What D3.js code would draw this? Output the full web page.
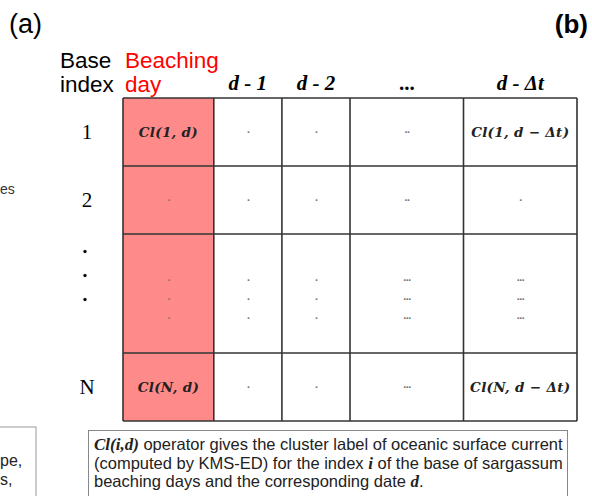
<!DOCTYPE html>
<html>
<head>
<meta charset="utf-8">
<script src="https://cdn.jsdelivr.net/npm/d3@7"></script>
<style>
  body { margin: 0; background: #fff; }
  svg { display: block; }
</style>
</head>
<body>
<svg id="chart" width="592" height="496"></svg>
<script>
// table contents
var columns = ["Beaching day", "d - 1", "d - 2", "...", "d - \u0394t"];
var rowLabels = ["1", "2", "\u22EE", "N"];
var row1 = ["Cl(1, d)", ".", ".", "..", "Cl(1, d \u2212 \u0394t)"];
var row2 = [".", ".", ".", "..", "."];
var row3 = [".", ".", ".", "...", "..."];   // stacked three times
var rowN = ["Cl(N, d)", ".", ".", "...", "Cl(N, d \u2212 \u0394t)"];
var cells = [row1, row2, row3, rowN];
var caption = [
  ["Cl(i,d)", " operator gives the cluster label of oceanic surface current"],
  ["", "(computed by KMS-ED) for the index ", "i", " of the base of sargassum"],
  ["", "beaching days and the corresponding date ", "d", "."]
];

// relative spans of the columns / rows
var colSpan = [4, 3, 3, 5, 5];
var rowSpan = [2, 2, 3.5, 2];

var svg = d3.select("#chart");

function cum(a) {
  var out = [0];
  a.forEach(function (v) { out.push(out[out.length - 1] + v); });
  return out;
}
var colEdge = cum(colSpan), rowEdge = cum(rowSpan);

var x = d3.scaleLinear().domain([0, d3.sum(colSpan)]).range([123, 577]);
var y = d3.scaleLinear().domain([0, d3.sum(rowSpan)]).range([98, 421]);

var sans = "'Liberation Sans', Arial, sans-serif";
var serif = "'Liberation Serif', 'Times New Roman', serif";

function isCl(v) { return v.indexOf("Cl") == 0; }

// panel letters
svg.append("text").attr("x", 9).attr("y", 33)
  .style("font-family", sans).style("font-size", "27px").text("(a)");
svg.append("text").attr("x", 588).attr("y", 33).attr("text-anchor", "end")
  .style("font-family", sans).style("font-size", "26px").style("font-weight", "bold").text("(b)");

// bits of panel (a) cut off at the left
svg.append("text").attr("x", 0).attr("y", 194)
  .style("font-family", sans).style("font-size", "14px").style("fill", "#333").text("es");
svg.append("rect").attr("x", -10).attr("y", 427).attr("width", 46).attr("height", 90)
  .attr("fill", "none").attr("stroke", "#999").attr("stroke-width", 1);
svg.append("text").attr("x", 0).attr("y", 466)
  .style("font-family", sans).style("font-size", "16px").style("fill", "#222").text("pe,");
svg.append("text").attr("x", 0).attr("y", 485)
  .style("font-family", sans).style("font-size", "16px").style("fill", "#222").text("s,");

// header labels
var hdr = svg.append("g").style("font-family", sans).style("font-size", "22.5px");
hdr.append("text").attr("x", 60).attr("y", 68).text("Base");
hdr.append("text").attr("x", 60).attr("y", 92).text("index");
hdr.append("text").attr("x", 125).attr("y", 68).style("fill", "#ff0000").text(columns[0].split(" ")[0]);
hdr.append("text").attr("x", 125).attr("y", 92).style("fill", "#ff0000").text(columns[0].split(" ")[1]);

svg.append("g").selectAll("text")
  .data(columns.slice(1))
  .enter().append("text")
    .attr("x", function (d, i) { return x((colEdge[i + 1] + colEdge[i + 2]) / 2); })
    .attr("y", 90)
    .attr("text-anchor", "middle")
    .style("font-family", serif).style("font-size", "21px")
    .style("font-style", function (d) { return d == "..." ? "normal" : "italic"; })
    .style("font-weight", "bold")
    .text(function (d) { return d; });

// row labels
svg.append("g").selectAll("text")
  .data(rowLabels)
  .enter().append("text")
    .attr("x", 87)
    .attr("y", function (d, i) { return y((rowEdge[i] + rowEdge[i + 1]) / 2) + 7; })
    .attr("text-anchor", "middle")
    .style("font-family", serif).style("font-size", "21px")
    .text(function (d) { return d == "\u22EE" ? "" : d; })
    .each(function (d, i) {
      if (d != "\u22EE") return;
      var cy = y((rowEdge[i] + rowEdge[i + 1]) / 2);
      [-1, 0, 1].forEach(function (k) {
        svg.append("circle").attr("cx", 85).attr("cy", cy - 18 + k * 24).attr("r", 1.7).attr("fill", "#111");
      });
    });

// red column
svg.append("rect")
  .attr("x", x(colEdge[0])).attr("y", y(0))
  .attr("width", x(colEdge[1]) - x(colEdge[0]))
  .attr("height", y(d3.sum(rowSpan)) - y(0))
  .attr("fill", "#ff8a8a");

// cell texts
var flat = [];
cells.forEach(function (row, r) {
  row.forEach(function (v, c) {
    var reps = r == 2 ? [-19, 0, 19] : [0];
    reps.forEach(function (dy) { flat.push({ r: r, c: c, v: v, dy: dy }); });
  });
});

svg.append("g").selectAll("text")
  .data(flat)
  .enter().append("text")
    .attr("x", function (d) { return x((colEdge[d.c] + colEdge[d.c + 1]) / 2); })
    .attr("y", function (d) {
      var cy = y((rowEdge[d.r] + rowEdge[d.r + 1]) / 2) + (d.r == 2 ? 5 : 0) + d.dy;
      return isCl(d.v) ? cy + 5 : cy + 1;
    })
    .attr("text-anchor", "middle")
    .style("font-family", function (d) { return isCl(d.v) ? "'DejaVu Serif', serif" : "'DejaVu Sans', sans-serif"; })
    .style("font-size", function (d) { return isCl(d.v) ? "13.5px" : "9px"; })
    .style("font-style", function (d) { return isCl(d.v) ? "italic" : "normal"; })
    .style("font-weight", "bold")
    .style("fill", function (d) { return isCl(d.v) ? "#222" : "#777"; })
    .style("letter-spacing", function (d) { return isCl(d.v) ? "0.3px" : "-1px"; })
    .text(function (d) { return d.v; });

// grid lines
var grid = svg.append("g").attr("stroke", "#333").attr("stroke-width", 1.6);
grid.selectAll("line.v")
  .data(colEdge)
  .enter().append("line").attr("class", "v")
    .attr("x1", function (d) { return x(d); }).attr("x2", function (d) { return x(d); })
    .attr("y1", y(0)).attr("y2", y(d3.sum(rowSpan)));
grid.selectAll("line.h")
  .data(rowEdge)
  .enter().append("line").attr("class", "h")
    .attr("y1", function (d) { return y(d); }).attr("y2", function (d) { return y(d); })
    .attr("x1", x(0)).attr("x2", x(d3.sum(colSpan)));

// caption box
svg.append("rect").attr("x", 88.5).attr("y", 430.5).attr("width", 479).attr("height", 80)
  .attr("fill", "#fff").attr("stroke", "#888").attr("stroke-width", 1);

var cap = svg.append("g").style("font-family", sans).style("font-size", "16.5px").style("fill", "#222");
caption.forEach(function (line, i) {
  var t = cap.append("text").attr("x", 94).attr("y", 450 + i * 18.5);
  line.forEach(function (part, k) {
    if (part == "") return;
    var span = t.append("tspan").text(part);
    if (k % 2 == 0) span.style("font-family", serif).style("font-style", "italic").style("font-weight", "bold").style("font-size", "17px");
  });
});
</script>
</body>
</html>
